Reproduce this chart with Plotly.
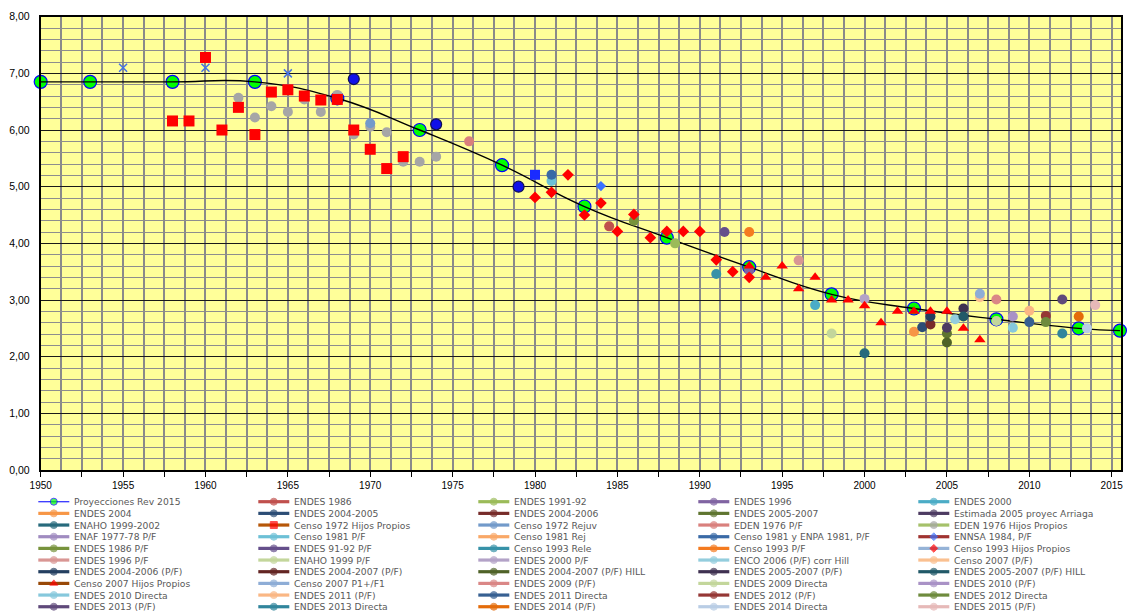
import plotly.graph_objects as go

# ---------------- data ----------------
# Tasa global de fecundidad (TGF) por año
proy_years = [1950, 1953, 1958, 1963, 1968, 1973, 1978, 1983, 1988, 1993, 1998, 2003, 2008, 2013, 2015.5]
proy_tgf = [6.85, 6.85, 6.85, 6.85, 6.56, 6.00, 5.38, 4.65, 4.10, 3.58, 3.10, 2.85, 2.66, 2.50, 2.46]

censo72_hp_years = [1958, 1959, 1960, 1961, 1962, 1963, 1964, 1965, 1966, 1967, 1968, 1969, 1970, 1971, 1972]
censo72_hp_tgf = [6.16, 6.16, 7.28, 6.00, 6.40, 5.92, 6.67, 6.71, 6.60, 6.53, 6.54, 6.00, 5.66, 5.32, 5.53]

eden76_hp_years = [1962, 1963, 1964, 1965, 1966, 1967, 1968, 1969, 1970, 1971, 1972, 1973, 1974]
eden76_hp_tgf = [6.57, 6.22, 6.42, 6.32, 6.54, 6.32, 6.62, 5.92, 6.06, 5.96, 5.44, 5.44, 5.53]

censo93_hp_years = [1980, 1981, 1982, 1983, 1984, 1985, 1986, 1987, 1988, 1989, 1990, 1991, 1992, 1993]
censo93_hp_tgf = [4.81, 4.90, 5.21, 4.50, 4.71, 4.21, 4.51, 4.10, 4.21, 4.21, 4.21, 3.71, 3.50, 3.40]

censo07_hp_years = [1993, 1994, 1995, 1996, 1997, 1998, 1999, 2000, 2001, 2002, 2003, 2004, 2005, 2006, 2007]
censo07_hp_tgf = [3.60, 3.40, 3.60, 3.20, 3.40, 3.00, 3.00, 2.90, 2.60, 2.80, 2.80, 2.80, 2.80, 2.50, 2.30]

# series without legend entry
aux_x_years = [1955, 1960, 1965]
aux_x_tgf = [7.10, 7.10, 7.00]
aux_circ_years = [1969, 1974, 1979]
aux_circ_tgf = [6.90, 6.10, 5.00]
aux_sq_years = [1980]
aux_sq_tgf = [5.21]

# single-estimate sources
single_names = [
    "ENDES 1986", "ENDES 1991-92", "ENDES 1996", "ENDES 2000", "ENDES 2004",
    "ENDES 2004-2005", "ENDES 2004-2006", "ENDES 2005-2007", "Estimada 2005 proyec Arriaga",
    "ENAHO 1999-2002", "Censo 1972 Rejuv", "EDEN 1976 P/F", "Censo 1981 P/F",
    "Censo 1981 y ENPA 1981, P/F", "ENNSA 1984, P/F", "ENDES 1986 P/F", "ENDES 91-92 P/F",
    "Censo 1993 Rele", "Censo 1993 P/F", "ENDES 1996 P/F", "ENAHO 1999 P/F", "ENDES 2000 P/F",
    "ENCO 2006 (P/F) corr Hill", "Censo 2007 (P/F)", "ENDES 2004-2006 (P/F)",
    "ENDES 2004-2007 (P/F) HILL", "ENDES 2005-2007 (P/F)", "ENDES 2005-2007 (P/F) HILL",
    "Censo 2007 P1+/F1", "ENDES 2009 (P/F)", "ENDES 2009 Directa", "ENDES 2010 (P/F)",
    "ENDES 2010 Directa", "ENDES 2011 (P/F)", "ENDES 2011 Directa", "ENDES 2012 (P/F)",
    "ENDES 2012 Directa", "ENDES 2013 (P/F)", "ENDES 2013 Directa", "ENDES 2014 (P/F)",
    "ENDES 2014 Directa", "ENDES 2015 (P/F)",
]
single_years = [
    1984.5, 1988.5, 1993, 1997, 2003,
    2003.5, 2004, 2005, 2005,
    2000, 1970, 1976, 1981,
    1981, 1984, 1986, 1991.5,
    1991, 1993, 1996, 1998, 2000,
    2005.5, 2007, 2004,
    2005, 2006, 2006,
    2007, 2008, 2008, 2009,
    2009, 2010, 2010, 2011,
    2011, 2012, 2012, 2013,
    2013.5, 2014,
]
single_tgf = [
    4.30, 4.00, 3.52, 2.91, 2.44,
    2.52, 2.57, 2.41, 2.51,
    2.06, 6.12, 5.80, 5.10,
    5.21, 5.01, 4.40, 4.20,
    3.46, 4.20, 3.70, 2.41, 3.02,
    2.66, 3.05, 2.71,
    2.25, 2.85, 2.71,
    3.11, 3.01, 2.63, 2.71,
    2.51, 2.81, 2.61, 2.72,
    2.61, 3.01, 2.41, 2.71,
    2.50, 2.91,
]

legend_names = [
    "Proyecciones Rev 2015", "ENDES 1986", "ENDES 1991-92", "ENDES 1996", "ENDES 2000",
    "ENDES 2004", "ENDES 2004-2005", "ENDES 2004-2006", "ENDES 2005-2007", "Estimada 2005 proyec Arriaga",
    "ENAHO 1999-2002", "Censo 1972 Hijos Propios", "Censo 1972 Rejuv", "EDEN 1976 P/F", "EDEN 1976 Hijos Propios",
    "ENAF 1977-78 P/F", "Censo 1981 P/F", "Censo 1981 Rej", "Censo 1981 y ENPA 1981, P/F", "ENNSA 1984, P/F",
    "ENDES 1986 P/F", "ENDES 91-92 P/F", "Censo 1993 Rele", "Censo 1993 P/F", "Censo 1993 Hijos Propios",
    "ENDES 1996 P/F", "ENAHO 1999 P/F", "ENDES 2000 P/F", "ENCO 2006 (P/F) corr Hill", "Censo 2007 (P/F)",
    "ENDES 2004-2006 (P/F)", "ENDES 2004-2007 (P/F)", "ENDES 2004-2007 (P/F) HILL", "ENDES 2005-2007 (P/F)", "ENDES 2005-2007 (P/F) HILL",
    "Censo 2007 Hijos Propios", "Censo 2007 P1+/F1", "ENDES 2009 (P/F)", "ENDES 2009 Directa", "ENDES 2010 (P/F)",
    "ENDES 2010 Directa", "ENDES 2011 (P/F)", "ENDES 2011 Directa", "ENDES 2012 (P/F)", "ENDES 2012 Directa",
    "ENDES 2013 (P/F)", "ENDES 2013 Directa", "ENDES 2014 (P/F)", "ENDES 2014 Directa", "ENDES 2015 (P/F)",
]

y_ticks = [0, 1, 2, 3, 4, 5, 6, 7, 8]
x_label_years = [1950, 1955, 1960, 1965, 1970, 1975, 1980, 1985, 1990, 1995, 2000, 2005, 2010, 2015]

# ---------------- styles ----------------
RED = "#FF0000"
line_color = {
    "Proyecciones Rev 2015": "#3535FF",
    "ENDES 1986": "#C0504D", "ENDES 1991-92": "#9BBB59", "ENDES 1996": "#8064A2",
    "ENDES 2000": "#4BACC6", "ENDES 2004": "#F79646", "ENDES 2004-2005": "#2C4D75",
    "ENDES 2004-2006": "#772C2A", "ENDES 2005-2007": "#5F7530",
    "Estimada 2005 proyec Arriaga": "#4D3B62", "ENAHO 1999-2002": "#276A7C",
    "Censo 1972 Hijos Propios": "#B65708", "Censo 1972 Rejuv": "#729ACA",
    "EDEN 1976 P/F": "#D9807D", "EDEN 1976 Hijos Propios": "#A5C16A",
    "ENAF 1977-78 P/F": "#A08BC0", "Censo 1981 P/F": "#6DC0D6", "Censo 1981 Rej": "#F9A867",
    "Censo 1981 y ENPA 1981, P/F": "#3A6AA6", "ENNSA 1984, P/F": "#A03330",
    "ENDES 1986 P/F": "#77933C", "ENDES 91-92 P/F": "#654F8B", "Censo 1993 Rele": "#3792A8",
    "Censo 1993 P/F": "#F47B20", "Censo 1993 Hijos Propios": "#95B3D7",
    "ENDES 1996 P/F": "#D99694", "ENAHO 1999 P/F": "#C3D69B", "ENDES 2000 P/F": "#B3A2C7",
    "ENCO 2006 (P/F) corr Hill": "#93CDDD", "Censo 2007 (P/F)": "#FAC090",
    "ENDES 2004-2006 (P/F)": "#243F60", "ENDES 2004-2007 (P/F)": "#632523",
    "ENDES 2004-2007 (P/F) HILL": "#4F6228", "ENDES 2005-2007 (P/F)": "#3F3151",
    "ENDES 2005-2007 (P/F) HILL": "#215968", "Censo 2007 Hijos Propios": "#984807",
    "Censo 2007 P1+/F1": "#8EADD6", "ENDES 2009 (P/F)": "#DA8786", "ENDES 2009 Directa": "#C3D69B",
    "ENDES 2010 (P/F)": "#A992C6", "ENDES 2010 Directa": "#86C8DC", "ENDES 2011 (P/F)": "#FAB784",
    "ENDES 2011 Directa": "#376092", "ENDES 2012 (P/F)": "#953735", "ENDES 2012 Directa": "#6E8B3D",
    "ENDES 2013 (P/F)": "#5F497A", "ENDES 2013 Directa": "#31859C", "ENDES 2014 (P/F)": "#E46C0A",
    "ENDES 2014 Directa": "#B9CDE5", "ENDES 2015 (P/F)": "#E6B9B8",
}
marker_style = {
    "Proyecciones Rev 2015": dict(symbol="circle", color="#00FF00", edge="#0000FF", size=11),
    "Censo 1972 Hijos Propios": dict(symbol="square", color=RED, edge=None, size=11),
    "EDEN 1976 Hijos Propios": dict(symbol="circle", color="#A6A6A6", edge=None, size=10),
    "ENNSA 1984, P/F": dict(symbol="diamond", color="#3B72FF", edge=None, size=8),
    "Censo 1993 Hijos Propios": dict(symbol="diamond", color=RED, edge=None, size=9),
    "Censo 2007 Hijos Propios": dict(symbol="triangle-up", color=RED, edge=None, size=10),
}

W, H = 1128, 612
PLOT_L, PLOT_R, PLOT_T, PLOT_B = 40.7, 1121.0, 16.7, 470.0
X_MIN = 1950
X_MAX = X_MIN + (PLOT_R - PLOT_L) / 16.477

fig = go.Figure()

# projection markers + smoothed curve
fig.add_trace(go.Scatter(
    x=proy_years, y=proy_tgf, mode="markers", showlegend=False, cliponaxis=False,
    marker=dict(symbol="circle", size=13, color="#00FF00", line=dict(color="#0000FF", width=1.2)),
))
fig.add_trace(go.Scatter(
    x=proy_years, y=proy_tgf, mode="lines", showlegend=False,
    line=dict(color="#000000", width=1.4, shape="spline", smoothing=1.3),
))

def point_series(xs, ys, symbol, color, size, edge=None, edge_w=0):
    fig.add_trace(go.Scatter(
        x=xs, y=ys, mode="markers", showlegend=False, cliponaxis=False,
        marker=dict(symbol=symbol, size=size, color=color,
                    line=dict(color=edge or color, width=edge_w)),
    ))

point_series(aux_x_years, aux_x_tgf, "x-thin-open", "#4472E8", 8, "#4472E8", 1.5)
point_series(aux_circ_years, aux_circ_tgf, "circle", "#1010E8", 11, "#101050", 1.2)
point_series(aux_sq_years, aux_sq_tgf, "square", "#1A2BFF", 10)

point_series(eden76_hp_years, eden76_hp_tgf, "circle", "#A6A6A6", 10)
point_series(censo72_hp_years, censo72_hp_tgf, "square", RED, 11)

for name, yr, v in zip(single_names, single_years, single_tgf):
    ms = marker_style.get(name)
    if ms:
        point_series([yr], [v], ms["symbol"], ms["color"], ms["size"])
    else:
        point_series([yr], [v], "circle", line_color[name], 10)

point_series(censo93_hp_years, censo93_hp_tgf, "diamond", RED, 9)
point_series(censo07_hp_years, censo07_hp_tgf, "triangle-up", RED, 10)

# ---------------- legend drawn on its own axes (pixel units) ----------------
LEG_TOP = 488
col_x0 = [38.3 + 220 * c for c in range(5)]
mk_x, mk_y, mk_sym, mk_col, mk_edge, mk_size = [], [], [], [], [], []
for i, name in enumerate(legend_names):
    c, r = i % 5, i // 5
    x0 = col_x0[c]
    yy = H - (501.7 + 11.67 * r)
    lw = 1.3 if name == "Proyecciones Rev 2015" else 3.2
    fig.add_trace(go.Scatter(
        x=[x0, x0 + 31], y=[yy, yy], mode="lines", xaxis="x2", yaxis="y2",
        showlegend=False, hoverinfo="skip", line=dict(color=line_color[name], width=lw),
    ))
    ms = marker_style.get(name, dict(symbol="circle", color=line_color[name], edge=None))
    mk_x.append(x0 + 15.5)
    mk_y.append(yy)
    mk_sym.append(ms["symbol"])
    mk_col.append(ms["color"])
    mk_edge.append(ms["edge"] or ms["color"])
    mk_size.append({"triangle-up": 7, "diamond": 6, "square": 7}.get(ms["symbol"], 7))
    fig.add_annotation(
        x=x0 + 33.5, y=yy, xref="x2", yref="y2", text=name, showarrow=False,
        xanchor="left", yanchor="middle",
        font=dict(family="DejaVu Sans", size=9.2, color="#595959"),
    )

fig.add_trace(go.Scatter(
    x=mk_x, y=mk_y, mode="markers", xaxis="x2", yaxis="y2", showlegend=False, hoverinfo="skip",
    marker=dict(symbol=mk_sym, color=mk_col, size=mk_size, line=dict(color=mk_edge, width=1)),
))

# yellow plotting area (only behind the main axes)
fig.add_shape(type="rect", xref="x domain", yref="y domain", x0=0, x1=1, y0=0, y1=1,
              fillcolor="#FFFF99", line=dict(width=0), layer="below")

# ---------------- axes ----------------
x_tickvals = [X_MIN + 2.5 * k for k in range(27)]
x_ticktext = [str(int(v)) if v in x_label_years else "" for v in x_tickvals]

fig.update_layout(
    width=W, height=H,
    margin=dict(l=0, r=0, t=0, b=0, autoexpand=False),
    paper_bgcolor="#FFFFFF",
    plot_bgcolor="rgba(0,0,0,0)",
    separators=",.",
    showlegend=False,
    xaxis=dict(
        domain=[PLOT_L / W, PLOT_R / W], range=[X_MIN, X_MAX],
        tickvals=x_tickvals, ticktext=x_ticktext,
        ticks="outside", ticklen=5, tickwidth=1.3, tickcolor="#000000",
        tickfont=dict(family="Liberation Sans", size=10, color="#000000"),
        showgrid=True, gridcolor="#8A8A8A", gridwidth=1.6,
        minor=dict(dtick=1.25, tick0=X_MIN, showgrid=True, gridcolor="#8A8A8A", gridwidth=1.6),
        showline=True, linecolor="#000000", linewidth=2, mirror=True,
        zeroline=False, fixedrange=True, automargin=False,
    ),
    yaxis=dict(
        domain=[1 - PLOT_B / H, 1 - PLOT_T / H], range=[0, 8],
        tickvals=y_ticks, tickformat=".2f",
        ticks="", ticklabelstandoff=7,
        tickfont=dict(family="Liberation Sans", size=10.5, color="#000000"),
        showgrid=True, gridcolor="#1A1A1A", gridwidth=1.4,
        minor=dict(dtick=0.2, tick0=0, showgrid=True, gridcolor="#8E8E8E", gridwidth=1.4),
        showline=True, linecolor="#000000", linewidth=2, mirror=True,
        zeroline=False, fixedrange=True, automargin=False,
    ),
    xaxis2=dict(domain=[0, 1], range=[0, W], visible=False, anchor="y2", fixedrange=True,
                automargin=False),
    yaxis2=dict(domain=[0, (H - LEG_TOP) / H], range=[0, H - LEG_TOP], visible=False,
                anchor="x2", fixedrange=True, automargin=False),
)

fig.write_html("out.html")
